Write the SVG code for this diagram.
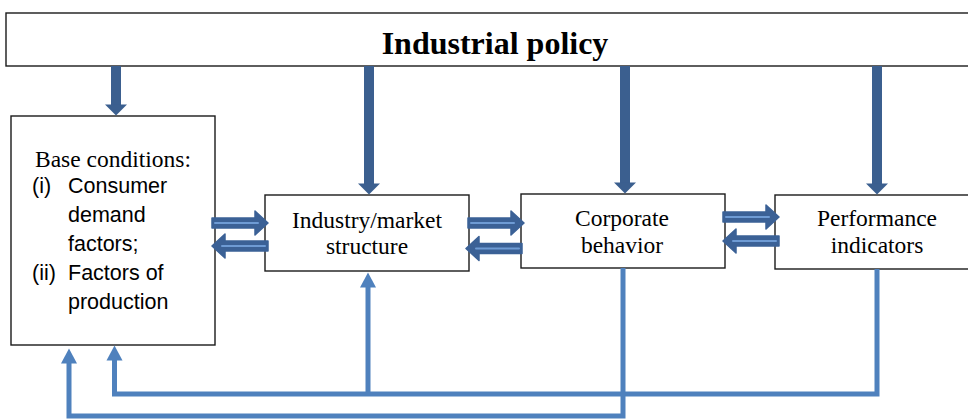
<svg xmlns="http://www.w3.org/2000/svg" width="968" height="419" viewBox="0 0 968 419">
  <style>
    .box { fill: #ffffff; stroke: #1a1a1a; stroke-width: 1.4; }
    .serif { font-family: "Liberation Serif", "Times New Roman", serif; fill: #000; }
    .title { font-size: 32px; font-weight: bold; text-anchor: middle; }
    .lbl { font-size: 23.5px; text-anchor: middle; }
    .sans { font-family: "Liberation Sans", Arial, sans-serif; font-size: 21.5px; fill: #000; }
    .policy { fill: none; stroke: #3b5f8f; stroke-width: 10; }
    .feedback { fill: none; stroke: #4f81bd; stroke-width: 5; stroke-linejoin: miter; }
    .block { fill: #3b6196; stroke: #3b6196; stroke-width: 1.5; stroke-linejoin: round; }
    .stripe { stroke: #6e9bd4; stroke-width: 2; stroke-linecap: round; }
  </style>
  <defs>
    <marker id="headDark" markerUnits="userSpaceOnUse" markerWidth="24" markerHeight="24" refX="0.5" refY="0" viewBox="0 -12 12 24" orient="auto" overflow="visible">
      <path d="M0,-11 L11,0 L0,11 Z" fill="#3b5f8f"/>
    </marker>
    <marker id="headLight" markerUnits="userSpaceOnUse" markerWidth="16" markerHeight="18" refX="0.5" refY="0" viewBox="0 -9 15 18" orient="auto" overflow="visible">
      <path d="M0,-8 L15,0 L0,8 Z" fill="#4f81bd"/>
    </marker>
    <g id="blockArrow">
      <path class="block" d="M0,-5 H43 V-12 L56,0 L43,12 V5 H0 Z"/>
      <line class="stripe" x1="3" y1="0" x2="46" y2="0"/>
    </g>
  </defs>

  <g id="industrial-policy">
    <rect class="box" x="6" y="13" width="975" height="53" stroke-width="1.8"/>
    <text class="serif title" x="495" y="54">Industrial policy</text>
  </g>

  <g id="base-conditions">
    <rect class="box" x="11" y="116" width="204" height="229"/>
    <text class="serif lbl" x="113" y="167">Base conditions:</text>
    <text class="sans" x="32" y="193">(i)</text>
    <text class="sans" x="68" y="193">Consumer</text>
    <text class="sans" x="68" y="222">demand</text>
    <text class="sans" x="68" y="251">factors;</text>
    <text class="sans" x="32" y="280">(ii)</text>
    <text class="sans" x="68" y="280">Factors of</text>
    <text class="sans" x="68" y="309">production</text>
  </g>

  <g id="market-structure">
    <rect class="box" x="265" y="195" width="204" height="76"/>
    <text class="serif lbl" x="367" y="228">Industry/market</text>
    <text class="serif lbl" x="367" y="254">structure</text>
  </g>

  <g id="corporate-behavior">
    <rect class="box" x="521" y="194" width="204" height="74"/>
    <text class="serif lbl" x="622" y="226">Corporate</text>
    <text class="serif lbl" x="622" y="253">behavior</text>
  </g>

  <g id="performance-indicators">
    <rect class="box" x="775" y="195" width="210" height="74"/>
    <text class="serif lbl" x="877" y="226">Performance</text>
    <text class="serif lbl" x="877" y="253">indicators</text>
  </g>

  <g id="connectors">
    <!-- policy arrows down into each stage -->
    <path class="policy" d="M116,66 V105" marker-end="url(#headDark)"/>
    <path class="policy" d="M369,66 V184" marker-end="url(#headDark)"/>
    <path class="policy" d="M625,66 V183" marker-end="url(#headDark)"/>
    <path class="policy" d="M877,66 V184" marker-end="url(#headDark)"/>

    <!-- two-way block arrows between stages -->
    <use href="#blockArrow" transform="translate(212,223)"/>
    <use href="#blockArrow" transform="translate(268,246) scale(-1,1)"/>
    <use href="#blockArrow" transform="translate(468,223)"/>
    <use href="#blockArrow" transform="translate(522,248.5) scale(-1,1)"/>
    <use href="#blockArrow" transform="translate(723,217)"/>
    <use href="#blockArrow" transform="translate(779,241) scale(-1,1)"/>

    <!-- feedback loops -->
    <path class="feedback" d="M877,269 V394 H114.5 V360" marker-end="url(#headLight)"/>
    <path class="feedback" d="M368,394 V287" marker-end="url(#headLight)"/>
    <path class="feedback" d="M623,268 V416 H69 V363" marker-end="url(#headLight)"/>
  </g>
</svg>
